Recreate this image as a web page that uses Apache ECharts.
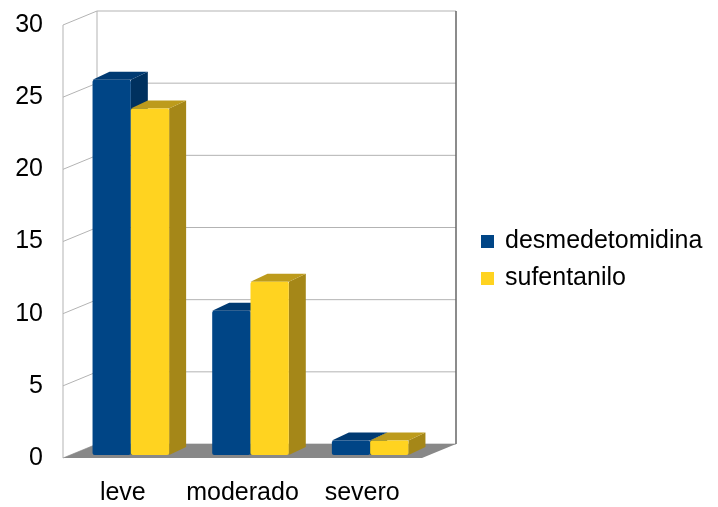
<!DOCTYPE html>
<html>
<head>
<meta charset="utf-8">
<script src="https://cdn.jsdelivr.net/npm/echarts@6/dist/echarts.min.js"></script>
<style>
  html, body { margin: 0; padding: 0; background: #fff; }
  #chart { width: 718px; height: 507px; }
</style>
</head>
<body>
<div id="chart"></div>
<script>
// datos
const categories = ['leve', 'moderado', 'severo'];
const desmedetomidina = [26, 10, 1];
const sufentanilo = [24, 12, 1];
const yTicks = [0, 5, 10, 15, 20, 25, 30];

// desplazamientos de la perspectiva (px)
const WALL_DX = 34, WALL_DY = -14;   // pared del fondo
const BAR_DX = 8, BAR_DY = -3;       // cara frontal de las barras
const DEPTH_DX = 17, DEPTH_DY = -8;  // profundidad de cada barra
const BAR_W = 0.32;                  // ancho de barra / ancho de categoría

const chart = echarts.init(document.getElementById('chart'));

// barra 3D: cara frontal, superior y lateral
function renderBar(shades, slot) {
  return function (params, api) {
    const idx = api.value(0);
    const band = api.size([1, 0])[0];
    const w = band * BAR_W;
    const base = api.coord([idx, 0]);
    const top = api.coord([idx, api.value(1)]);
    const x1 = base[0] - w + slot * w + BAR_DX;
    const x2 = x1 + w;
    const yb = base[1] + BAR_DY;
    const yt = top[1] + BAR_DY;
    return {
      type: 'group',
      children: [
        {
          type: 'polygon',
          shape: { points: [[x2, yt], [x2 + DEPTH_DX, yt + DEPTH_DY], [x2 + DEPTH_DX, yb + DEPTH_DY], [x2, yb]] },
          style: { fill: shades.side }
        },
        {
          type: 'polygon',
          shape: { points: [[x1, yt], [x1 + DEPTH_DX, yt + DEPTH_DY], [x2 + DEPTH_DX, yt + DEPTH_DY], [x2, yt]] },
          style: { fill: shades.top }
        },
        {
          type: 'rect',
          shape: { x: x1, y: yt, width: w, height: yb - yt, r: 2 },
          style: { fill: shades.front }
        }
      ]
    };
  };
}

const option = {
  animation: false,
  textStyle: { fontFamily: 'Liberation Sans', color: '#000' },
  grid: { left: 63, right: 296, top: 25, bottom: 49 },
  legend: {
    orient: 'vertical',
    left: 481,
    top: 229,
    padding: 0,
    icon: 'rect',
    itemWidth: 13,
    itemHeight: 13,
    itemGap: 12,
    textStyle: { fontSize: 25, color: '#000', fontFamily: 'Liberation Sans', padding: [0, 0, 0, 6] },
    data: ['desmedetomidina', 'sufentanilo']
  },
  xAxis: {
    type: 'category',
    data: categories,
    axisLine: { show: false },
    axisTick: { show: false },
    axisLabel: { fontSize: 25, color: '#000', margin: 23, interval: 0, hideOverlap: false }
  },
  yAxis: {
    type: 'value',
    min: 0,
    max: 30,
    interval: 5,
    axisLine: { show: false },
    axisTick: { show: false },
    splitLine: { show: false },
    axisLabel: { fontSize: 25, color: '#000', margin: 20 }
  },
  series: [
    {
      // líneas de la pared lateral y del fondo
      name: 'walls',
      type: 'custom',
      z: 1,
      silent: true,
      data: yTicks.map(v => [0, v]),
      renderItem: function (params, api) {
        const cs = params.coordSys;
        const y = api.coord([0, api.value(1)])[1];
        return {
          type: 'polyline',
          shape: { points: [[cs.x, y], [cs.x + WALL_DX, y + WALL_DY], [cs.x + WALL_DX + cs.width, y + WALL_DY]] },
          style: { stroke: '#b3b3b3', lineWidth: 1, fill: null }
        };
      }
    },
    {
      // aristas verticales y suelo
      name: 'frame',
      type: 'custom',
      z: 2,
      silent: true,
      data: [[0, 0]],
      renderItem: function (params, api) {
        const cs = params.coordSys;
        const y0 = api.coord([0, yTicks[0]])[1];
        const y1 = api.coord([0, yTicks[yTicks.length - 1]])[1];
        const xb = cs.x + WALL_DX;
        return {
          type: 'group',
          children: [
            { type: 'line', shape: { x1: cs.x, y1: y1, x2: cs.x, y2: y0 }, style: { stroke: '#b3b3b3', lineWidth: 1 } },
            { type: 'line', shape: { x1: xb, y1: y1 + WALL_DY, x2: xb, y2: y0 + WALL_DY }, style: { stroke: '#b3b3b3', lineWidth: 1 } },
            { type: 'line', shape: { x1: xb + cs.width, y1: y1 + WALL_DY, x2: xb + cs.width, y2: y0 + WALL_DY }, style: { stroke: '#666', lineWidth: 1.5 } },
            {
              type: 'polygon',
              shape: { points: [[cs.x, y0], [xb, y0 + WALL_DY], [xb + cs.width, y0 + WALL_DY], [cs.x + cs.width, y0]] },
              style: { fill: '#888' }
            }
          ]
        };
      }
    },
    {
      name: 'desmedetomidina',
      type: 'custom',
      z: 3,
      itemStyle: { color: '#004586' },
      encode: { x: 0, y: 1 },
      data: desmedetomidina.map((v, i) => [i, v]),
      renderItem: renderBar({ front: '#004586', top: '#003a72', side: '#00315f' }, 0)
    },
    {
      name: 'sufentanilo',
      type: 'custom',
      z: 3,
      itemStyle: { color: '#ffd320' },
      encode: { x: 0, y: 1 },
      data: sufentanilo.map((v, i) => [i, v]),
      renderItem: renderBar({ front: '#ffd320', top: '#bd9b1c', side: '#a58718' }, 1)
    }
  ]
};

chart.setOption(option);
</script>
</body>
</html>
